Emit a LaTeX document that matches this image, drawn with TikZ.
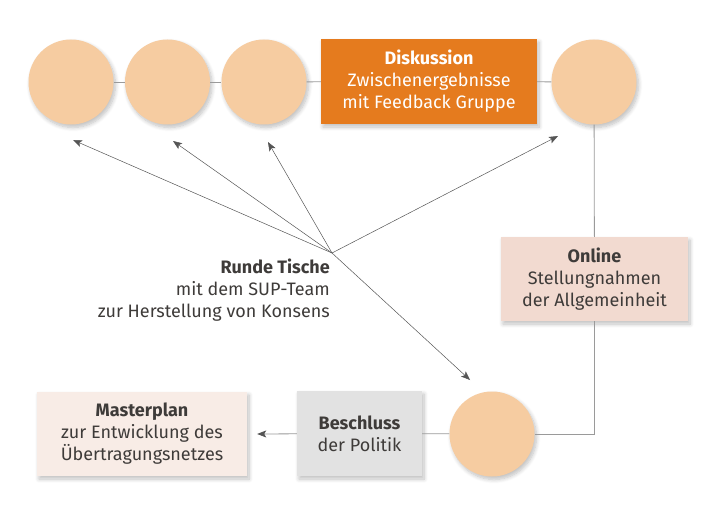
\documentclass[tikz,border=0pt]{standalone}
\usepackage{fontspec}
\setmainfont{Fira Sans}
\usetikzlibrary{arrows.meta,shadows.blur}
\definecolor{circfill}{HTML}{F6CCA1}
\definecolor{diskfill}{HTML}{E57B1E}
\definecolor{onlinefill}{HTML}{F2DAD0}
\definecolor{masterfill}{HTML}{F8ECE6}
\definecolor{beschlussfill}{HTML}{E2E2E2}
\definecolor{txt}{HTML}{3E3B39}
\definecolor{linegray}{HTML}{9A9A9A}
\definecolor{arrowgray}{HTML}{555555}
\tikzset{
  shade/.style={blur shadow={shadow xshift=2pt,shadow yshift=-3pt,shadow opacity=25,shadow blur steps=8,shadow blur radius=4pt}},
  stage/.style={circle,fill=circfill,minimum size=85pt,inner sep=0pt,shade},
  infobox/.style={rectangle,inner sep=0pt,align=center,text=txt,font=\fontsize{18}{22}\selectfont,shade},
  conn/.style={draw=linegray,line width=0.8pt},
  tip/.style={-{Stealth[length=9pt,width=7pt,inset=2pt,color=arrowgray]}},
  ray/.style={draw=arrowgray,line width=0.5pt,tip},
  lbl/.style={text=txt,font=\fontsize{18}{22}\selectfont}
}
\begin{document}
\begin{tikzpicture}[x=1pt,y=-1pt]
\useasboundingbox (0,0) rectangle (709,516);
% nodes
\node[stage] (c1) at (71,82) {};
\node[stage] (c2) at (167.5,82) {};
\node[stage] (c3) at (264,82) {};
\node[infobox,fill=diskfill,text=white,minimum width=216pt,minimum height=85pt] (disk) at (429,81.5)
  {\textbf{Diskussion}\\Zwischenergebnisse\\mit Feedback Gruppe};
\node[stage] (c5) at (594,82) {};
\node[infobox,fill=onlinefill,minimum width=187pt,minimum height=84pt] (online) at (594.5,279)
  {\textbf{Online}\\Stellungnahmen\\der Allgemeinheit};
\node[stage] (c6) at (492,434) {};
\node[infobox,fill=beschlussfill,minimum width=125pt,minimum height=85pt] (besch) at (359.5,433.5)
  {\textbf{Beschluss}\\der Politik};
\node[infobox,fill=masterfill,minimum width=210pt,minimum height=84pt] (master) at (142,434)
  {\textbf{Masterplan}\\zur Entwicklung des\\Übertragungsnetzes};
\node[lbl,align=right,anchor=north east,inner sep=0pt] (runde) at (330,259)
  {\textbf{Runde Tische}\\mit dem SUP-Team\\zur Herstellung von Konsens};
% connectors
\coordinate (mtip) at ([xshift=10pt]master.east);
\draw[conn] (c1) -- (c2);
\draw[conn] (c2) -- (c3);
\draw[conn] (c3) -- (disk);
\draw[conn] (disk) -- (c5);
\draw[conn] (c5) -- (online);
\draw[conn] (online.south) |- (c6.east);
\draw[conn] (c6) -- (besch);
\draw[conn,tip] (besch) -- (mtip);
% rays
\coordinate (hub) at (332,253);
\coordinate (t1) at (73,140);
\coordinate (t2) at (173,141);
\coordinate (t3) at (268,142);
\coordinate (t5) at (558,136);
\coordinate (t6) at (470,380);
\draw[ray] (hub) -- (t1);
\draw[ray] (hub) -- (t2);
\draw[ray] (hub) -- (t3);
\draw[ray] (hub) -- (t5);
\draw[ray] (hub) -- (t6);
\end{tikzpicture}
\end{document}
